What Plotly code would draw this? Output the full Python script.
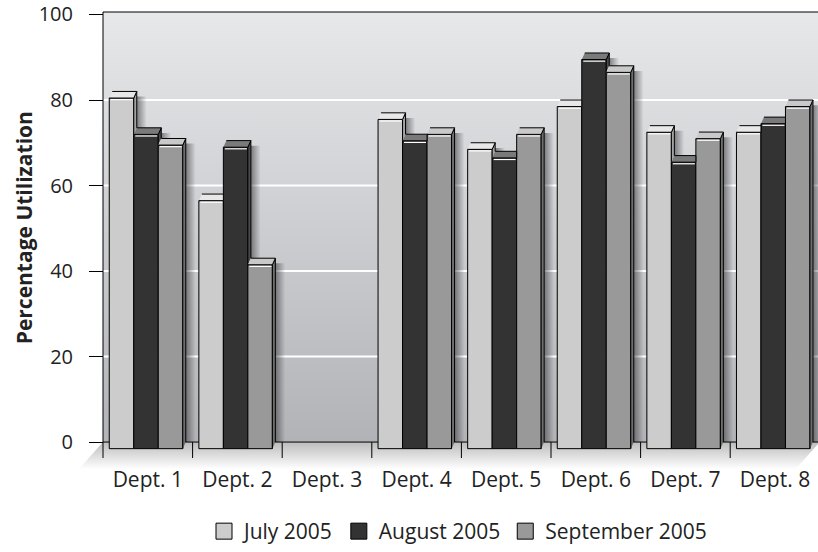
import plotly.graph_objects as go

# ---------------- data ----------------
categories = ["Dept. 1", "Dept. 2", "Dept. 3", "Dept. 4", "Dept. 5", "Dept. 6", "Dept. 7", "Dept. 8"]
series_names = ["July 2005", "August 2005", "September 2005"]
july = [82, 58, None, 77, 70, 80, 74, 74]
august = [73.5, 70.5, None, 72, 68, 91, 67, 76]
september = [71, 43, None, 73.5, 73.5, 88, 72.5, 80]
y_ticks = [0, 20, 40, 60, 80, 100]
grid_vals = [20, 40, 60, 80]

# ---------------- styling / geometry constants ----------------
FRONT = ["#cccccc", "#333333", "#999999"]
TOP = ["#e8e8e8", "#7a7a7a", "#c9c9c9"]
SIDE = ["#a3a3a3", "#4a4a4a", "#6e6e6e"]
FONT = "Open Sans"
TXT = "#222222"

W_PX, H_PX = 818, 552
L_M, R_M, T_M, B_M = 78, 0, 10, 80
PX_X = 89.6            # px per category
PX_Y = 4.285           # px per percent
WALL_LEFT_PX = 103
ZERO_PX = 443
plot_w = W_PX - L_M - R_M
plot_h = H_PX - T_M - B_M
x_lo = -0.5 - (WALL_LEFT_PX - L_M) / PX_X
x_hi = x_lo + plot_w / PX_X
y_hi = (ZERO_PX - T_M) / PX_Y
y_lo = -(H_PX - B_M - ZERO_PX) / PX_Y
wall_top = (ZERO_PX - 12) / PX_Y

DX = 3.0 / PX_X        # depth offset (x)
DY = 6.6 / PX_Y        # depth offset (y)
BW = 24.5 / PX_X       # bar width
FLOOR_DX = 24 / PX_X
FLOOR_DY = 27 / PX_Y
TICK_DY = 16 / PX_Y
n_cat = len(categories)
values = [july, august, september]


def front_x0(c, k):
    return c - 0.02 - 1.5 * BW + k * BW


fig = go.Figure()
skip = dict(hoverinfo="skip", showlegend=False)

# back wall with gradient
fig.add_trace(go.Scatter(
    x=[-0.5, n_cat, n_cat, -0.5], y=[0, 0, wall_top, wall_top],
    fill="toself", mode="lines", line=dict(width=0),
    fillgradient=dict(type="vertical", colorscale=[[0, "#b2b3b7"], [1, "#e7e8ea"]]),
    **skip))

# gridlines
gx, gy = [], []
for g in grid_vals:
    gx += [-0.5, n_cat, None]
    gy += [g, g, None]
fig.add_trace(go.Scatter(x=gx, y=gy, mode="lines", line=dict(color="white", width=2), **skip))

# shadows on the wall
for k, vals in enumerate(values):
    for c, v in enumerate(vals):
        if v is None:
            continue
        x1 = front_x0(c, k) + BW + DX
        fig.add_trace(go.Scatter(
            x=[x1, x1 + 0.11, x1 + 0.11, x1], y=[0, 0, v - 1.2, v - 1.2],
            fill="toself", mode="lines", line=dict(width=0),
            fillgradient=dict(type="horizontal",
                              colorscale=[[0, "rgba(60,60,65,0.6)"], [1, "rgba(60,60,65,0)"]]),
            **skip))

# floor
fig.add_trace(go.Scatter(
    x=[-0.5, n_cat - 0.5, n_cat - 0.5 - FLOOR_DX, -0.5 - FLOOR_DX],
    y=[0, 0, -FLOOR_DY, -FLOOR_DY],
    fill="toself", mode="lines", line=dict(width=0),
    fillgradient=dict(type="vertical", colorscale=[[0, "#ffffff"], [1, "#bcbcbc"]]),
    **skip))

# wall border + boundary ticks
bx = [-0.5, -0.5, n_cat, None, -0.5, n_cat, None]
by = [-TICK_DY, wall_top, wall_top, None, 0, 0, None]
for b in range(1, n_cat + 1):
    bx += [b - 0.5, b - 0.5, None]
    by += [0, -TICK_DY, None]
fig.add_trace(go.Scatter(x=bx, y=by, mode="lines", line=dict(color="black", width=1), **skip))

# ---------------- bars (overlay axes) ----------------
for k, vals in enumerate(values):
    fig.add_trace(go.Bar(
        x=list(range(n_cat)), y=vals, base=-DY, width=BW,
        offset=-0.02 - 1.5 * BW + k * BW,
        marker=dict(color=FRONT[k], line=dict(color="black", width=1)),
        name=series_names[k], showlegend=False, xaxis="x2", yaxis="y2",
        hovertemplate="%{y}<extra>" + series_names[k] + "</extra>"))

for k, vals in enumerate(values):
    sx, sy, tx, ty, hx, hy = [], [], [], [], [], []
    for c, v in enumerate(vals):
        if v is None:
            continue
        x0 = front_x0(c, k)
        x1 = x0 + BW
        nxt = values[k + 1][c] if k < 2 else None
        # side face (visible part above the neighbouring bar)
        low = nxt if nxt is not None else 0
        if nxt is None:
            sx += [x1, x1, x1 + DX, x1 + DX, None]
            sy += [-DY, v - DY, v, 0, None]
        elif v > nxt:
            sx += [x1, x1, x1 + DX, x1 + DX, None]
            sy += [low - DY, v - DY, v, low, None]
        # top face (clipped where neighbour front face hides it)
        h = (nxt - DY) if nxt is not None else -1e9
        if h >= v:
            tx += [x0, x1, x1, x0 + DX, None]
            ty += [v - DY, v - DY, v, v, None]
        elif h <= v - DY:
            tx += [x0, x1, x1 + DX, x0 + DX, None]
            ty += [v - DY, v - DY, v, v, None]
        else:
            xs = x1 + DX * (h - (v - DY)) / DY
            tx += [x0, x1, x1, xs, x1 + DX, x0 + DX, None]
            ty += [v - DY, v - DY, h, h, v, v, None]
        # highlight line on front face
        hl = v - DY - 1.6 / PX_Y
        hx += [x0 + 1.5 / PX_X, x1 - 1.0 / PX_X, None]
        hy += [hl, hl, None]
    fig.add_trace(go.Scatter(x=sx, y=sy, fill="toself", fillcolor=SIDE[k], mode="lines",
                             line=dict(color="black", width=1), xaxis="x2", yaxis="y2", **skip))
    fig.add_trace(go.Scatter(x=tx, y=ty, fill="toself", fillcolor=TOP[k], mode="lines",
                             line=dict(color="black", width=1), xaxis="x2", yaxis="y2", **skip))
    fig.add_trace(go.Scatter(x=hx, y=hy, mode="lines", line=dict(color="white", width=1.2),
                             xaxis="x2", yaxis="y2", **skip))

# legend entries
for k in range(3):
    fig.add_trace(go.Scatter(
        x=[None], y=[None], mode="markers", name=series_names[k],
        marker=dict(symbol="square", size=16, color=FRONT[k], line=dict(color="black", width=1))))

fig.update_layout(
    width=W_PX, height=H_PX,
    margin=dict(l=L_M, r=R_M, t=T_M, b=B_M),
    paper_bgcolor="white", plot_bgcolor="white",
    barmode="overlay",
    font=dict(family=FONT, color=TXT, size=20),
    xaxis=dict(range=[x_lo, x_hi], anchor="free", position=(0 - y_lo) / (y_hi - y_lo),
               tickmode="array", tickvals=list(range(n_cat)), ticktext=categories,
               ticks="outside", ticklen=19, tickcolor="rgba(0,0,0,0)",
               showgrid=False, zeroline=False, showline=False,
               tickfont=dict(size=21, family=FONT, color=TXT), fixedrange=True),
    yaxis=dict(range=[y_lo, y_hi], anchor="free", position=(WALL_LEFT_PX - L_M) / plot_w,
               tickmode="array", tickvals=y_ticks, ticks="outside", ticklen=14,
               tickcolor="black", tickwidth=1, ticklabelstandoff=12,
               showgrid=False, zeroline=False, showline=False,
               tickfont=dict(size=20, family=FONT, color=TXT), fixedrange=True),
    xaxis2=dict(range=[x_lo, x_hi], overlaying="x", visible=False, fixedrange=True),
    yaxis2=dict(range=[y_lo, y_hi], overlaying="y", visible=False, fixedrange=True),
    legend=dict(orientation="h", x=(458 - L_M) / plot_w, xanchor="center",
                y=(H_PX - B_M - 533) / plot_h, yanchor="middle",
                font=dict(size=21, family=FONT, color=TXT), itemsizing="trace"),
    annotations=[dict(text="<b>Percentage Utilization</b>", textangle=-90,
                      xref="paper", x=(24 - L_M) / plot_w, yref="y", y=50,
                      showarrow=False, xanchor="center", yanchor="middle",
                      font=dict(size=21, family=FONT, color=TXT))],
)

fig.write_html("out.html")
